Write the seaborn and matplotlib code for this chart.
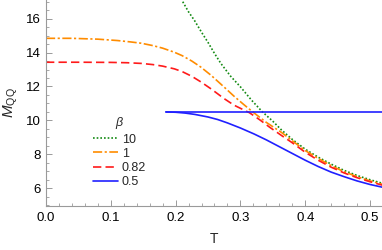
import matplotlib
matplotlib.use("Agg")
import matplotlib.pyplot as plt
import seaborn as sns
from matplotlib.ticker import MultipleLocator

# Data
T_b10 = [0.211, 0.22, 0.229, 0.24, 0.25, 0.26, 0.27, 0.285, 0.30, 0.317, 0.334,
         0.35, 0.363, 0.38, 0.40, 0.42, 0.44, 0.46, 0.48, 0.50, 0.52]
M_b10 = [17.0, 16.4, 15.9, 15.2, 14.6, 13.95, 13.35, 12.6, 11.98, 11.2, 10.5,
         9.95, 9.45, 8.88, 8.3, 7.83, 7.42, 7.05, 6.75, 6.5, 6.28]

T_b1 = [0.0, 0.04, 0.08, 0.11, 0.13, 0.147, 0.165, 0.18, 0.198, 0.21, 0.225,
        0.239, 0.255, 0.275, 0.29, 0.305, 0.319, 0.34, 0.363, 0.38, 0.40,
        0.42, 0.44, 0.46, 0.48, 0.50, 0.52]
M_b1 = [14.84, 14.84, 14.79, 14.71, 14.63, 14.55, 14.41, 14.26, 14.02, 13.82, 13.5,
        13.14, 12.65, 11.96, 11.43, 10.94, 10.5, 9.88, 9.3, 8.8, 8.22,
        7.76, 7.33, 6.97, 6.68, 6.43, 6.22]

T_b082 = [0.0, 0.05, 0.10, 0.125, 0.147, 0.165, 0.18, 0.198, 0.21, 0.225, 0.239,
          0.255, 0.275, 0.29, 0.314, 0.33, 0.345, 0.363, 0.38, 0.40, 0.42,
          0.44, 0.46, 0.48, 0.50, 0.52]
M_b082 = [13.43, 13.43, 13.42, 13.4, 13.36, 13.29, 13.2, 13.04, 12.88, 12.6, 12.27,
          11.85, 11.28, 10.9, 10.45, 10.03, 9.6, 9.12, 8.68, 8.12, 7.65,
          7.24, 6.9, 6.62, 6.38, 6.17]

T_b05 = [0.185, 0.20, 0.215, 0.23, 0.25, 0.265, 0.28, 0.30, 0.321, 0.34, 0.36,
         0.38, 0.40, 0.42, 0.44, 0.46, 0.48, 0.50, 0.52]
M_b05 = [10.5, 10.48, 10.43, 10.35, 10.2, 10.05, 9.85, 9.55, 9.2, 8.85, 8.45,
         8.05, 7.65, 7.28, 6.95, 6.68, 6.43, 6.22, 6.05]

T_b05_flat = [0.185, 0.52]
M_b05_flat = [10.5, 10.5]

labels = ["10", "1", "0.82", "0.5"]
x_ticks = [0.0, 0.1, 0.2, 0.3, 0.4, 0.5]
y_ticks = [6, 8, 10, 12, 14, 16]

sns.set_style("ticks")
plt.rcParams['font.family'] = ['Liberation Sans', 'DejaVu Sans']
plt.rcParams['mathtext.fontset'] = 'custom'
plt.rcParams['mathtext.rm'] = 'Liberation Sans'
plt.rcParams['mathtext.it'] = 'Liberation Sans:italic'

fig = plt.figure(figsize=(3.82, 2.5), dpi=100)
ax = fig.add_axes([46/382, 1 - 206/250, 336/382, 206/250])

lw = 1.2
sns.lineplot(x=T_b10, y=M_b10, ax=ax, color="#138a13", lw=lw, linestyle=(0, (1, 1.2)), label=labels[0])
sns.lineplot(x=T_b1, y=M_b1, ax=ax, color="#ff8c00", lw=lw, linestyle=(0, (5.5, 1.5, 1.3, 1.5)), label=labels[1])
sns.lineplot(x=T_b082, y=M_b082, ax=ax, color="#ff1a1a", lw=lw, linestyle=(0, (5, 2.5)), label=labels[2])
sns.lineplot(x=T_b05, y=M_b05, ax=ax, color="#2020ff", lw=lw, linestyle="-", label=labels[3])
sns.lineplot(x=T_b05_flat, y=M_b05_flat, ax=ax, color="#2020ff", lw=lw, linestyle="-", legend=False)

ax.set_xlim(0, 0.5185)
ax.set_ylim(4.95, 17.1)
ax.set_xticks(x_ticks)
ax.set_xticklabels([f"{v:.1f}" for v in x_ticks])
ax.set_yticks(y_ticks)
ax.xaxis.set_minor_locator(MultipleLocator(0.02))
ax.yaxis.set_minor_locator(MultipleLocator(0.5))

for s in ["top", "right"]:
    ax.spines[s].set_visible(False)
for s in ["left", "bottom"]:
    ax.spines[s].set_color("#9a9a9a")
    ax.spines[s].set_linewidth(0.8)
ax.tick_params(which="major", direction="in", length=4, width=0.7, color="#9a9a9a",
               labelsize=9.5, labelcolor="black", pad=4)
ax.tick_params(which="minor", direction="in", length=2.2, width=0.6, color="#9a9a9a")

ax.set_xlabel("T", fontsize=10)
ax.set_ylabel(r"$M_{\rm QQ}$", fontsize=11)
ax.xaxis.set_label_coords(0.5, -0.125)
ax.yaxis.set_label_coords(-0.078, 0.5)

leg = ax.legend(title=r"$\beta$", loc="upper left", bbox_to_anchor=(0.14, 0.44),
                frameon=False, fontsize=9, title_fontsize=9, handlelength=2.0,
                handletextpad=0.3, labelspacing=0.18, borderpad=0, borderaxespad=0)

fig.savefig("out.png", dpi=100)
